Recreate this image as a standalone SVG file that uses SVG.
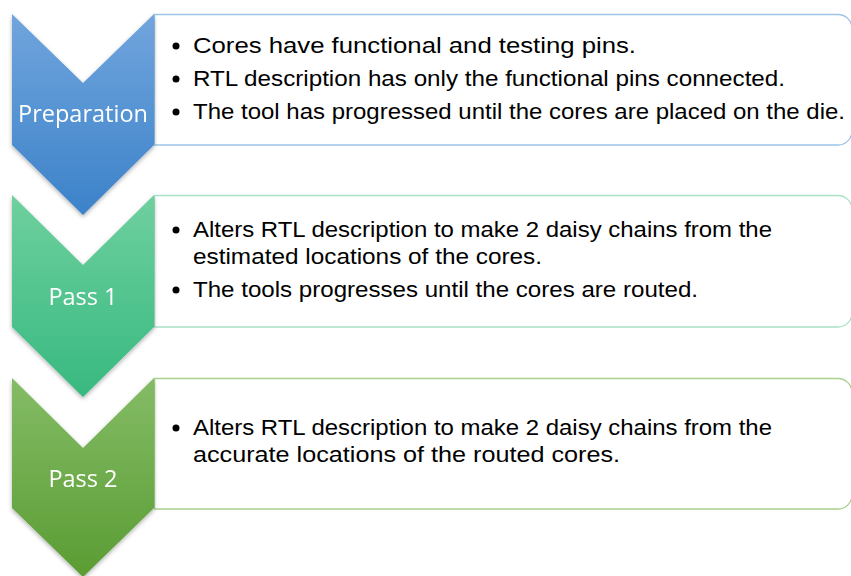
<svg xmlns="http://www.w3.org/2000/svg" width="851" height="576" viewBox="0 0 851 576">
<defs>
<linearGradient id="g1" x1="0" y1="0" x2="0" y2="1"><stop offset="0" stop-color="#71a5dd"/><stop offset="1" stop-color="#3c82c9"/></linearGradient>
<linearGradient id="g2" x1="0" y1="0" x2="0" y2="1"><stop offset="0" stop-color="#6fd09f"/><stop offset="1" stop-color="#37b97f"/></linearGradient>
<linearGradient id="g3" x1="0" y1="0" x2="0" y2="1"><stop offset="0" stop-color="#84bc66"/><stop offset="1" stop-color="#5a9c33"/></linearGradient>
<filter id="sh" x="-20%" y="-10%" width="140%" height="130%"><feDropShadow dx="0" dy="2" stdDeviation="2" flood-color="#000" flood-opacity="0.3"/></filter>
</defs>
<style>
.box{fill:#fff;stroke-width:1.3}
.lbl{font-family:"Open Sans","Liberation Sans",sans-serif;font-size:23.5px;fill:#fff;text-anchor:middle}
.t{font-family:"Liberation Sans",Arial,sans-serif;font-size:22px;fill:#000}
</style>
<rect width="851" height="576" fill="#fff"/>
<g id="box1"><path class="box" stroke="#9dc3e6" d="M154.5,14.5 H838 A14,14 0 0 1 852,28.5 V131 A14,14 0 0 1 838,145 H154.5 Z"/>
<circle cx="176" cy="46" r="3.5"/><circle cx="176" cy="79" r="3.5"/><circle cx="176" cy="112" r="3.5"/>
<text class="t" x="193" y="53" textLength="443" lengthAdjust="spacingAndGlyphs">Cores have functional and testing pins.</text>
<text class="t" x="193" y="86" textLength="592" lengthAdjust="spacingAndGlyphs">RTL description has only the functional pins connected.</text>
<text class="t" x="193" y="119" textLength="652" lengthAdjust="spacingAndGlyphs">The tool has progressed until the cores are placed on the die.</text>
</g>
<g id="box2"><path class="box" stroke="#a8e2c5" d="M154.5,195.5 H838 A14,14 0 0 1 852,209.5 V313 A14,14 0 0 1 838,327 H154.5 Z"/>
<circle cx="176" cy="230" r="3.5"/><circle cx="176" cy="290" r="3.5"/>
<text class="t" x="193" y="237" textLength="579" lengthAdjust="spacingAndGlyphs">Alters RTL description to make 2 daisy chains from the</text>
<text class="t" x="193" y="264" textLength="349" lengthAdjust="spacingAndGlyphs">estimated locations of the cores.</text>
<text class="t" x="193" y="297" textLength="505" lengthAdjust="spacingAndGlyphs">The tools progresses until the cores are routed.</text>
</g>
<g id="box3"><path class="box" stroke="#a9d18e" d="M154.5,378.5 H838 A14,14 0 0 1 852,392.5 V495 A14,14 0 0 1 838,509 H154.5 Z"/>
<circle cx="176" cy="428" r="3.5"/>
<text class="t" x="193" y="435" textLength="579" lengthAdjust="spacingAndGlyphs">Alters RTL description to make 2 daisy chains from the</text>
<text class="t" x="193" y="462" textLength="427" lengthAdjust="spacingAndGlyphs">accurate locations of the routed cores.</text>
</g>
<g id="prep" filter="url(#sh)"><path fill="url(#g1)" d="M12,14 L83,83 L154,14 V145 L83,215 L12,145 Z"/>
<text class="lbl" x="83" y="122">Preparation</text></g>
<g id="pass1" filter="url(#sh)"><path fill="url(#g2)" d="M12,195 L83,265 L154,195 V327 L83,397 L12,327 Z"/>
<text class="lbl" x="83" y="305">Pass 1</text></g>
<g id="pass2" filter="url(#sh)"><path fill="url(#g3)" d="M12,378 L83,448 L154,378 V508 L83,577 L12,508 Z"/>
<text class="lbl" x="83" y="487">Pass 2</text></g>
<g id="connectors"></g>
</svg>
